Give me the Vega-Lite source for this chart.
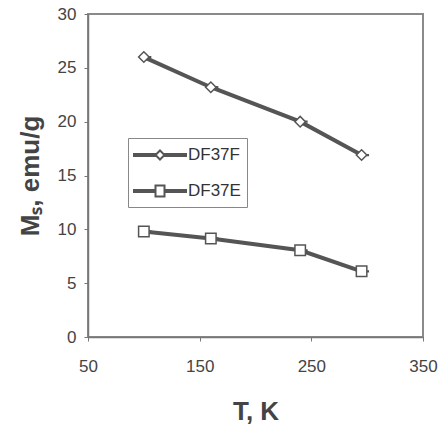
{
  "$schema": "https://vega.github.io/schema/vega-lite/v6.json",
  "width": 335,
  "height": 323,
  "autosize": "none",
  "padding": {"left": 88, "top": 14, "right": 17, "bottom": 90},
  "background": "white",
  "config": {
    "view": {"stroke": "#8a8a8a", "strokeWidth": 2},
    "font": "Liberation Sans",
    "axis": {
      "grid": false,
      "labelFlush": false,
      "domainColor": "#777",
      "domainWidth": 1.5,
      "tickColor": "#777",
      "tickSize": 4,
      "labelFont": "Liberation Sans",
      "labelFontSize": 17,
      "labelColor": "#444",
      "titleFont": "Liberation Sans",
      "titleFontSize": 26,
      "titleFontWeight": "bold",
      "titleColor": "#444"
    }
  },
  "data": {
    "values": [
      {"series": "DF37F", "T": 100, "Ms": 26.0},
      {"series": "DF37F", "T": 160, "Ms": 23.2},
      {"series": "DF37F", "T": 240, "Ms": 20.0},
      {"series": "DF37F", "T": 295, "Ms": 16.9},
      {"series": "DF37E", "T": 100, "Ms": 9.8},
      {"series": "DF37E", "T": 160, "Ms": 9.15},
      {"series": "DF37E", "T": 240, "Ms": 8.05},
      {"series": "DF37E", "T": 295, "Ms": 6.1}
    ]
  },
  "encoding": {
    "x": {
      "field": "T",
      "type": "quantitative",
      "scale": {"domain": [50, 350], "nice": false, "zero": false},
      "axis": {"values": [50, 150, 250, 350], "title": "T, K", "labelPadding": 17, "titlePadding": 24}
    },
    "y": {
      "field": "Ms",
      "type": "quantitative",
      "scale": {"domain": [0, 30], "nice": false},
      "axis": {"values": [0, 5, 10, 15, 20, 25, 30], "title": "Mₛ, emu/g", "labelPadding": 8, "titlePadding": 14}
    }
  },
  "layer": [
    {
      "mark": {"type": "line", "color": "#555", "strokeWidth": 4},
      "encoding": {"detail": {"field": "series", "type": "nominal"}}
    },
    {
      "mark": {"type": "point", "filled": false, "stroke": "#555", "strokeWidth": 2, "opacity": 1, "size": 10},
      "encoding": {
        "shape": {
          "field": "series",
          "type": "nominal",
          "scale": {
            "domain": ["DF37F", "DF37E"],
            "range": [
              "M-1.1,-0.09L1.05,-0.09L1.05,0.09L-1.1,0.09Z M1.95,-0.09L4.1,-0.09L4.1,0.09L1.95,0.09Z M1.5,-0.45L1.95,0L1.5,0.45L1.05,0Z",
              "M-1.1,-0.09L1.05,-0.09L1.05,0.09L-1.1,0.09Z M1.95,-0.09L4.1,-0.09L4.1,0.09L1.95,0.09Z M1.05,-0.55L1.95,-0.55L1.95,0.55L1.05,0.55Z"
            ]
          },
          "legend": {
            "orient": "none",
            "legendX": 40,
            "legendY": 124,
            "title": null,
            "padding": 6,
            "strokeColor": "#888",
            "symbolSize": 400,
            "symbolOpacity": 1,
            "symbolStrokeColor": "#555",
            "symbolStrokeWidth": 2,
            "labelFont": "Liberation Sans",
            "labelFontSize": 17,
            "labelColor": "#333",
            "labelOffset": 32,
            "rowPadding": 16
          }
        }
      }
    },
    {
      "mark": {"type": "point", "filled": true, "fill": "white", "stroke": "#555", "strokeWidth": 1.5, "opacity": 1, "size": 110},
      "encoding": {
        "shape": {
          "field": "series",
          "type": "nominal",
          "scale": {"domain": ["DF37F", "DF37E"], "range": ["diamond", "square"]},
          "legend": null
        }
      }
    }
  ],
  "resolve": {"scale": {"shape": "independent"}, "legend": {"shape": "independent"}}
}
